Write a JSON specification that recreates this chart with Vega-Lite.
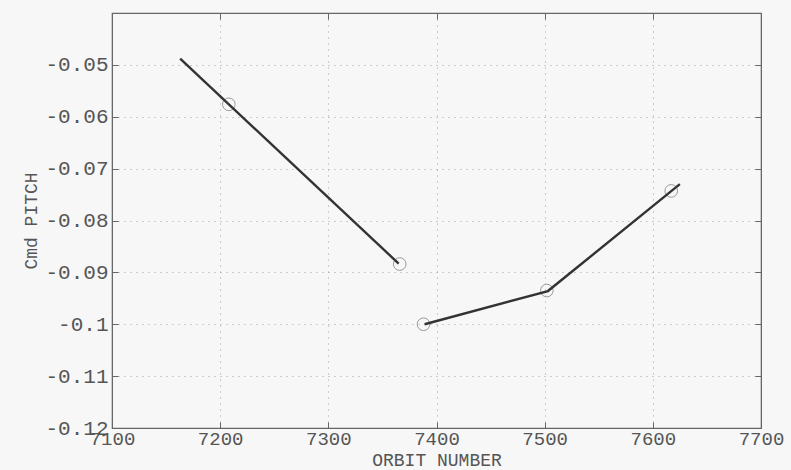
{
  "$schema": "https://vega.github.io/schema/vega-lite/v6.json",
  "width": 649,
  "height": 415,
  "autosize": {"type": "none"},
  "padding": {"left": 112, "top": 13, "right": 30, "bottom": 42},
  "background": "#f7f7f7",
  "config": {
    "view": {"stroke": "#666666", "strokeWidth": 1.2},
    "axis": {
      "labelFont": "Liberation Mono",
      "titleFont": "Liberation Mono",
      "labelColor": "#555555",
      "titleColor": "#555555",
      "labelFontWeight": "normal",
      "titleFontWeight": "normal",
      "domainColor": "#666666",
      "tickColor": "#666666",
      "gridColor": "#a0a0a0",
      "gridDash": [1, 5],
      "gridWidth": 1,
      "labelFlush": false,
      "labelOverlap": false
    }
  },
  "datasets": {
    "lines": [
      {"orbit": 7163, "pitch": -0.0488, "seg": "a"},
      {"orbit": 7365, "pitch": -0.0883, "seg": "a"},
      {"orbit": 7389, "pitch": -0.1000, "seg": "b"},
      {"orbit": 7503, "pitch": -0.0936, "seg": "b"},
      {"orbit": 7625, "pitch": -0.0730, "seg": "b"}
    ],
    "points": [
      {"orbit": 7208, "pitch": -0.0576},
      {"orbit": 7366, "pitch": -0.0884},
      {"orbit": 7388, "pitch": -0.1000},
      {"orbit": 7502, "pitch": -0.0935},
      {"orbit": 7617, "pitch": -0.0743}
    ]
  },
  "layer": [
    {
      "data": {"name": "points"},
      "mark": {"type": "point", "shape": "circle", "size": 160, "stroke": "#9a9a9a", "strokeWidth": 1, "filled": false, "opacity": 1},
      "encoding": {
        "x": {
          "field": "orbit", "type": "quantitative",
          "scale": {"domain": [7100, 7700], "nice": false, "zero": false},
          "axis": {
            "orient": "bottom", "title": "ORBIT NUMBER", "titleFontSize": 18, "labelFontSize": 19,
            "values": [7100, 7200, 7300, 7400, 7500, 7600, 7700],
            "format": "d", "grid": true, "tickSize": -6, "labelPadding": 7, "titlePadding": 3
          }
        },
        "y": {
          "field": "pitch", "type": "quantitative",
          "scale": {"domain": [-0.12, -0.04], "nice": false, "zero": false},
          "axis": {
            "orient": "left", "title": "Cmd PITCH", "titleFontSize": 18, "labelFontSize": 21,
            "values": [-0.12, -0.11, -0.1, -0.09, -0.08, -0.07, -0.06, -0.05],
            "labelExpr": "toString(datum.value)", "grid": true, "tickSize": -6, "labelPadding": 10, "titlePadding": 4
          }
        }
      }
    },
    {
      "data": {"name": "lines"},
      "mark": {"type": "line", "color": "#333333", "strokeWidth": 2.4},
      "encoding": {
        "x": {
          "field": "orbit", "type": "quantitative",
          "scale": {"domain": [7100, 7700], "nice": false, "zero": false},
          "axis": {"orient": "top", "title": null, "labels": false, "grid": false, "tickSize": -6,
            "values": [7100, 7200, 7300, 7400, 7500, 7600, 7700]}
        },
        "y": {
          "field": "pitch", "type": "quantitative",
          "scale": {"domain": [-0.12, -0.04], "nice": false, "zero": false},
          "axis": {"orient": "right", "title": null, "labels": false, "grid": false, "tickSize": -6,
            "values": [-0.12, -0.11, -0.1, -0.09, -0.08, -0.07, -0.06, -0.05]}
        },
        "detail": {"field": "seg"}
      }
    }
  ],
  "resolve": {"axis": {"x": "independent", "y": "independent"}}
}
